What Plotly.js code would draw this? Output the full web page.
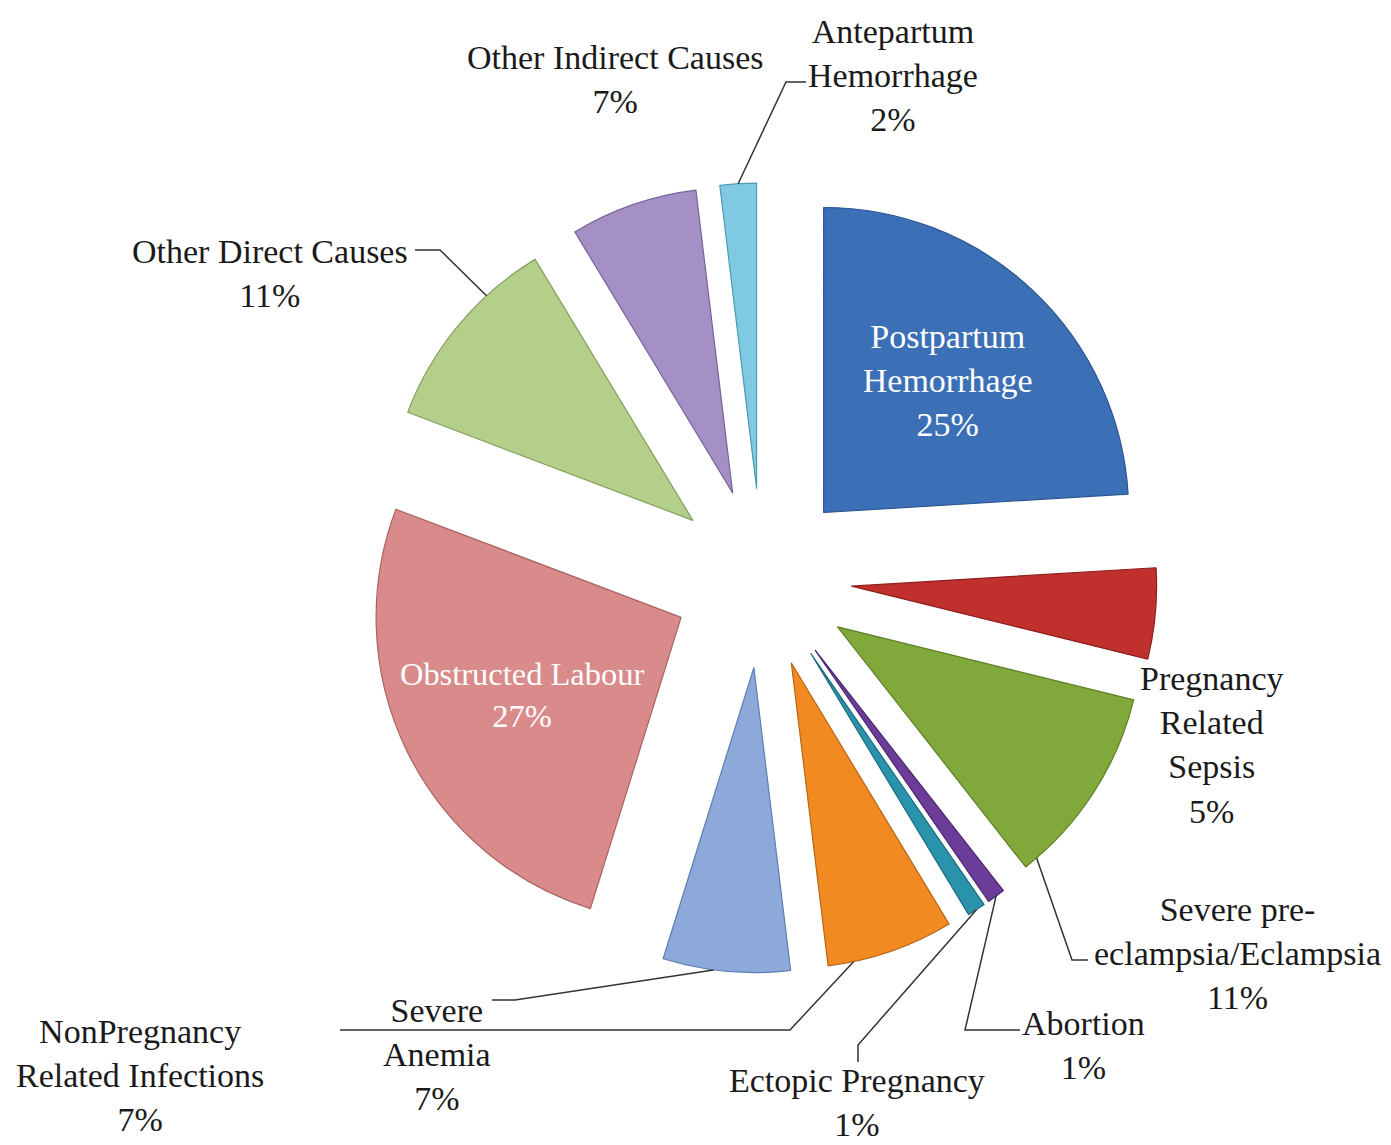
<!DOCTYPE html>
<html>
<head>
<meta charset="utf-8">
<script src="https://cdn.plot.ly/plotly-3.0.1.min.js"></script>
<style>html,body{margin:0;padding:0;background:#fff;}#chart{width:1391px;height:1145px;}</style>
</head>
<body>
<div id="chart"></div>
<script>
// ---- data ----
const categories = ["Postpartum Hemorrhage","Pregnancy Related Sepsis","Severe pre-eclampsia/Eclampsia","Abortion","Ectopic Pregnancy","NonPregnancy Related Infections","Severe Anemia","Obstructed Labour","Other Direct Causes","Other Indirect Causes","Antepartum Hemorrhage"];
const values = [25, 5, 11, 1, 1, 7, 7, 27, 11, 7, 2];
const pctLabels = ["25%","5%","11%","1%","1%","7%","7%","27%","11%","7%","2%"];
const labelLines = [
  ["Postpartum","Hemorrhage"],
  ["Pregnancy","Related","Sepsis"],
  ["Severe pre-","eclampsia/Eclampsia"],
  ["Abortion"],
  ["Ectopic Pregnancy"],
  ["NonPregnancy","Related Infections"],
  ["Severe","Anemia"],
  ["Obstructed Labour"],
  ["Other Direct Causes"],
  ["Other Indirect Causes"],
  ["Antepartum","Hemorrhage"]
];
const colors = ["#3B6FB6","#C0302C","#80A83A","#6B3D99","#2A93AC","#F28A22","#8CA9D9","#D98B8B","#B3CF8A","#A590C6","#80C9E2"];
const lineColors = ["#2A5490","#8E1F1C","#5E7E27","#4A2870","#1C6C80","#B8651A","#5E7DB0","#A86262","#84A060","#76629A","#4E9AB5"];
const insideIdx = [0, 7];

// ---- layout geometry (pixels) ----
const W = 1391, H = 1145;
const CX = 762, CY = 578, PULL = 0.295, R = 305;
const D = R * (1 + PULL);
const FONT = "Liberation Serif, Times New Roman, serif";

const text = categories.map((c, i) => labelLines[i].concat([pctLabels[i]]).join("<br>"));
const textpos = categories.map((c, i) => insideIdx.includes(i) ? "inside" : "none");

// slice angles (degrees clockwise from 12 o'clock)
const total = values.reduce((a, b) => a + b, 0);
const starts = []; let acc = 0;
values.forEach(v => { starts.push(acc / total * 360); acc += v; });
function attach(i, frac, radf) {
  const a0 = starts[i], a1 = starts[i] + values[i] / total * 360;
  const m = (a0 + a1) / 2 * Math.PI / 180;
  const t = (a0 + frac * (a1 - a0)) * Math.PI / 180;
  return [CX + PULL * R * Math.sin(m) + radf * R * Math.sin(t),
          CY - PULL * R * Math.cos(m) - radf * R * Math.cos(t)];
}
const px = x => x / W, py = y => 1 - y / H;

// outside label placements: [slice index, centre x, centre y]
const outside = [
  [9, 615, 80], [10, 893, 75], [8, 270, 273], [1, 1212, 745], [2, 1237, 953],
  [3, 1083, 1045], [4, 857, 1102], [6, 437, 1054], [5, 140, 1075]
];
const annotations = outside.map(([i, x, y]) => ({
  x: px(x), y: py(y), xref: "paper", yref: "paper", xanchor: "center", yanchor: "middle",
  showarrow: false, align: "center", text: text[i],
  font: {family: FONT, size: 34, color: "#1a1a1a"}
}));

// leader lines: [slice index, frac along slice, radius frac, elbow points...]
const leaders = [
  [10, 0.5, 1.0, [[806, 82], [786, 82]]],
  [8, 0.7, 1.0, [[415, 250], [440, 250]]],
  [2, 0.93, 1.0, [[1088, 960], [1072, 960]]],
  [3, 0.5, 1.0, [[1020, 1030], [965, 1030]]],
  [4, 0.5, 1.0, [[858, 1062], [858, 1045]]],
  [6, 0.6, 1.0, [[492, 1000], [515, 1000]]],
  [5, 0.8, 1.0, [[340, 1030], [790, 1030]]]
];
const shapes = leaders.map(([i, f, rf, pts]) => {
  const all = pts.concat([attach(i, f, rf)]);
  const d = all.map((p, k) => (k ? "L" : "M") + px(p[0]).toFixed(5) + "," + py(p[1]).toFixed(5)).join(" ");
  return {type: "path", xref: "paper", yref: "paper", path: d, line: {color: "#333", width: 1.5}};
});

const trace = {
  type: "pie",
  labels: categories,
  values: values,
  text: text,
  textinfo: "text",
  textposition: textpos,
  insidetextorientation: "horizontal",
  insidetextfont: {family: FONT, size: 34, color: "#ffffff"},
  sort: false,
  direction: "clockwise",
  rotation: 0,
  pull: PULL,
  marker: {colors: colors, line: {color: lineColors, width: 1.2}},
  domain: {x: [(CX - D) / W, (CX + D) / W], y: [1 - (CY + D) / H, 1 - (CY - D) / H]},
  hoverinfo: "label+text",
  showlegend: false
};

const layout = {
  width: W, height: H,
  margin: {l: 0, r: 0, t: 0, b: 0},
  paper_bgcolor: "#ffffff",
  showlegend: false,
  annotations: annotations,
  shapes: shapes,
  font: {family: FONT}
};

Plotly.newPlot("chart", [trace], layout, {displayModeBar: false, staticPlot: true});
</script>
</body>
</html>
